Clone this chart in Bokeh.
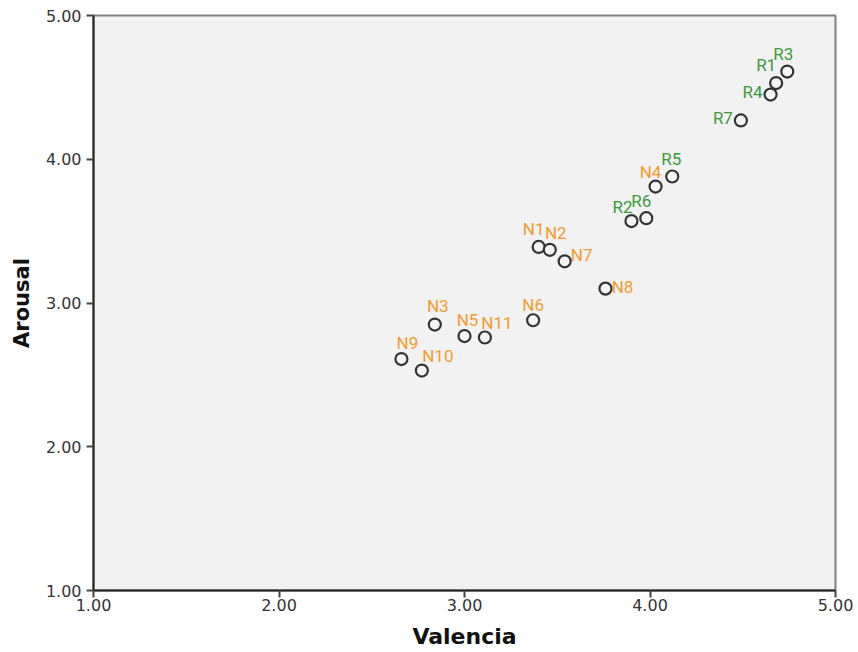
from bokeh.plotting import figure
from bokeh.models import ColumnDataSource, Range1d, FixedTicker, NumeralTickFormatter
from bokeh.core.properties import value
from bokeh.embed import file_html
from bokeh.resources import INLINE

# ---- data ----
names = ["R1", "R2", "R3", "R4", "R5", "R6", "R7",
         "N1", "N2", "N3", "N4", "N5", "N6", "N7", "N8", "N9", "N10", "N11"]
valencia = [4.68, 3.90, 4.74, 4.65, 4.12, 3.98, 4.49,
            3.40, 3.46, 2.84, 4.03, 3.00, 3.37, 3.54, 3.76, 2.66, 2.77, 3.11]
arousal = [4.53, 3.57, 4.61, 4.45, 3.88, 3.59, 4.27,
           3.39, 3.37, 2.85, 3.81, 2.77, 2.88, 3.29, 3.10, 2.61, 2.53, 2.76]
groups = ["R"] * 7 + ["N"] * 11
ticks = [1, 2, 3, 4, 5]

# ---- label placement (screen px) ----
label_dx = [-10, -9, -4, -18, -1, -5, -18,
            -5, 6, 3, -5, 3, 0, 17, 17, 6, 16, 12]
label_dy = [-18, -14, -18, -3, -18, -17, -2,
            -18, -17, -19, -15, -16, -15, -6, -2, -16, -15, -15]
group_color = {"R": "#3a9a3a", "N": "#f59a2c"}

src = ColumnDataSource(dict(
    x=valencia, y=arousal, name=names,
    color=[group_color[g] for g in groups],
    dx=label_dx, dy=label_dy,
))

p = figure(width=858, height=652, output_backend="svg", toolbar_location=None,
           x_range=Range1d(1, 5), y_range=Range1d(1, 5),
           min_border_left=93, min_border_top=15, min_border_right=23, min_border_bottom=62)

p.border_fill_color = "white"
p.background_fill_color = "#f2f2f2"
p.outline_line_color = "#808080"
p.outline_line_width = 2
p.xgrid.visible = False
p.ygrid.visible = False

for ax in (p.xaxis[0], p.yaxis[0]):
    ax.ticker = FixedTicker(ticks=ticks)
    ax.formatter = NumeralTickFormatter(format="0.00")
    ax.axis_line_color = "#222222"
    ax.axis_line_width = 2
    ax.major_tick_line_color = "#444444"
    ax.major_tick_line_width = 2
    ax.major_tick_out = 7
    ax.major_tick_in = 0
    ax.minor_tick_line_color = None
    ax.major_label_text_font = "DejaVu Sans"
    ax.major_label_text_font_size = "16px"
    ax.major_label_text_color = "#333333"
    ax.axis_label_text_font = "DejaVu Sans"
    ax.axis_label_text_font_style = "bold"
    ax.axis_label_text_color = "#111111"

p.xaxis.axis_label = "Valencia"
p.yaxis.axis_label = "Arousal"
p.xaxis.axis_label_text_font_size = "22px"
p.yaxis.axis_label_text_font_size = "21px"
p.xaxis.major_label_standoff = 1
p.yaxis.major_label_standoff = 5
p.xaxis.axis_label_standoff = 10
p.yaxis.axis_label_standoff = 9

p.scatter("x", "y", source=src, size=12, marker="circle",
          fill_color="#f4f4f4", line_color="#333333", line_width=2.2)

p.text("x", "y", text="name", source=src, x_offset="dx", y_offset="dy",
       text_color="color", text_align="center", text_baseline="middle",
       text_font=value("Roboto"), text_font_size="17px")

open("out.html", "w").write(file_html(p, INLINE))
